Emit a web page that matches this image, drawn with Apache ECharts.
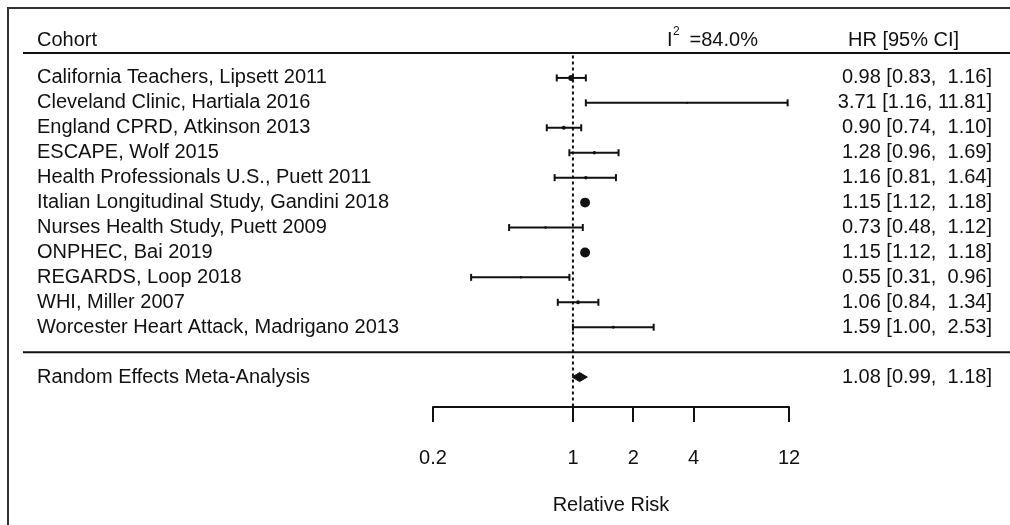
<!DOCTYPE html>
<html>
<head>
<meta charset="utf-8">
<style>
  html, body { margin: 0; padding: 0; background: #fff; }
  #chart { width: 1010px; height: 525px; }
</style>
<script src="https://cdn.jsdelivr.net/npm/echarts@6.0.0/dist/echarts.min.js"></script>
</head>
<body>
<div id="chart"></div>
<script>
// study names, one row each
var cohorts = [
  "California Teachers, Lipsett 2011",
  "Cleveland Clinic, Hartiala 2016",
  "England CPRD, Atkinson 2013",
  "ESCAPE, Wolf 2015",
  "Health Professionals U.S., Puett 2011",
  "Italian Longitudinal Study, Gandini 2018",
  "Nurses Health Study, Puett 2009",
  "ONPHEC, Bai 2019",
  "REGARDS, Loop 2018",
  "WHI, Miller 2007",
  "Worcester Heart Attack, Madrigano 2013"
];
var hr = [0.98, 3.71, 0.90, 1.28, 1.16, 1.15, 0.73, 1.15, 0.55, 1.06, 1.59];
var ciLow = [0.83, 1.16, 0.74, 0.96, 0.81, 1.12, 0.48, 1.12, 0.31, 0.84, 1.00];
var ciHigh = [1.16, 11.81, 1.10, 1.69, 1.64, 1.18, 1.12, 1.18, 0.96, 1.34, 2.53];
// approximate study weights (%)
var weights = [11, 1.5, 6, 5, 5, 21, 3, 21, 2.5, 6, 3.5];

var summaryName = "Random Effects Meta-Analysis";
var summaryHr = 1.08;
var summaryLow = 0.99;
var summaryHigh = 1.18;

var tickValues = [0.2, 1, 2, 4, 12];
var i2Value = "84.0%";

var FONT = "'Liberation Sans', Arial, sans-serif";
var INK = "#111";

function fmtCI(est, lo, hi) {
  var h = hi.toFixed(2);
  while (h.length < 5) h = " " + h;
  return est.toFixed(2) + " [" + lo.toFixed(2) + ", " + h + "]";
}

function txt(x, y, s, align, size) {
  return {
    type: "text",
    x: x, y: y,
    style: {
      text: s, fill: INK, font: (size || 20) + "px " + FONT,
      textAlign: align || "left", textVerticalAlign: "middle"
    }
  };
}

function vline(x, y1, y2, w) {
  return { type: "line", shape: { x1: x, y1: y1, x2: x, y2: y2 }, style: { stroke: INK, lineWidth: w || 2 } };
}

// 每个研究一行：置信区间 + 端点 + 点估计 + 两侧文字
function renderStudy(params, api) {
  var i = params.dataIndex;
  var row = api.value(1);
  var pLo = api.coord([api.value(2), row]);
  var pHi = api.coord([api.value(3), row]);
  var pEst = api.coord([api.value(0), row]);
  var y = pEst[1];
  var r = (1.5 + 0.4 * api.value(4)) / 2;
  return {
    type: "group",
    children: [
      { type: "line", shape: { x1: pLo[0], y1: y, x2: pHi[0], y2: y }, style: { stroke: INK, lineWidth: 2 } },
      vline(pLo[0], y - 3.5, y + 3.5),
      vline(pHi[0], y - 3.5, y + 3.5),
      { type: "circle", shape: { cx: pEst[0], cy: y, r: r }, style: { fill: INK } },
      txt(37, y, cohorts[i]),
      txt(992, y, fmtCI(hr[i], ciLow[i], ciHigh[i]), "right")
    ]
  };
}

function renderSummary(params, api) {
  var row = api.value(1);
  var pLo = api.coord([api.value(2), row]);
  var pHi = api.coord([api.value(3), row]);
  var pEst = api.coord([api.value(0), row]);
  var y = pEst[1];
  return {
    type: "group",
    children: [
      {
        type: "polygon",
        shape: { points: [[pLo[0], y], [pEst[0], y - 4.5], [pHi[0], y], [pEst[0], y + 4.5]] },
        style: { fill: INK, stroke: INK, lineWidth: 1 }
      },
      txt(37, y, summaryName),
      txt(992, y, fmtCI(summaryHr, summaryLow, summaryHigh), "right")
    ]
  };
}

// header texts, rules across the table, dotted null line
function renderFrame(params, api) {
  var top = api.coord([1, 0])[1];
  var sep = api.coord([1, 12])[1];
  var head = api.coord([1, -0.5])[1];
  var nullTop = api.coord([1, 0.1]);
  var nullBot = api.coord([1, 14.2]);
  return {
    type: "group",
    children: [
      { type: "rect", shape: { x: 8, y: 8, width: 1010, height: 525 }, style: { fill: null, stroke: "#333", lineWidth: 2 } },
      { type: "line", shape: { x1: 23, y1: top, x2: 1012, y2: top }, style: { stroke: INK, lineWidth: 2 } },
      { type: "line", shape: { x1: 23, y1: sep, x2: 1012, y2: sep }, style: { stroke: INK, lineWidth: 2 } },
      {
        type: "line",
        shape: { x1: nullTop[0], y1: nullTop[1], x2: nullBot[0], y2: nullBot[1] },
        style: { stroke: INK, lineWidth: 2, lineDash: [3, 3] }
      },
      txt(37, head, "Cohort"),
      txt(667, head, "I"),
      txt(673, head - 9, "2", "left", 12),
      txt(684, head, " =" + i2Value),
      txt(848, head, "HR [95% CI]")
    ]
  };
}

var studyData = hr.map(function (v, i) {
  return [v, i + 1, ciLow[i], ciHigh[i], weights[i]];
});

var chart = echarts.init(document.getElementById("chart"));
chart.setOption({
  animation: false,
  backgroundColor: "#fff",
  grid: { left: 433, right: 221, top: 53, bottom: 118 },
  xAxis: {
    type: "log",
    logBase: 10,
    min: 0.2,
    max: 12,
    axisLine: { show: true, onZero: false, lineStyle: { color: INK, width: 2 } },
    axisTick: { show: true, customValues: tickValues, length: 15, lineStyle: { color: INK, width: 2 } },
    axisLabel: {
      customValues: tickValues,
      margin: 41,
      fontSize: 20,
      fontFamily: FONT,
      color: INK,
      formatter: function (v) { return String(+(+v).toPrecision(3)); }
    },
    splitLine: { show: false },
    minorTick: { show: false },
    name: "Relative Risk",
    nameLocation: "middle",
    nameGap: 88,
    nameTextStyle: { fontSize: 20, fontFamily: FONT, color: INK }
  },
  yAxis: { type: "value", inverse: true, min: 0, max: 14.2, show: false },
  series: [
    {
      type: "custom",
      name: "frame",
      silent: true,
      renderItem: renderFrame,
      data: [[1, 0]],
      encode: { x: 0, y: 1 }
    },
    {
      type: "custom",
      name: "studies",
      renderItem: renderStudy,
      data: studyData,
      encode: { x: [0, 2, 3], y: 1 }
    },
    {
      type: "custom",
      name: "summary",
      renderItem: renderSummary,
      data: [[summaryHr, 13, summaryLow, summaryHigh]],
      encode: { x: [0, 2, 3], y: 1 }
    }
  ]
});
</script>
</body>
</html>
